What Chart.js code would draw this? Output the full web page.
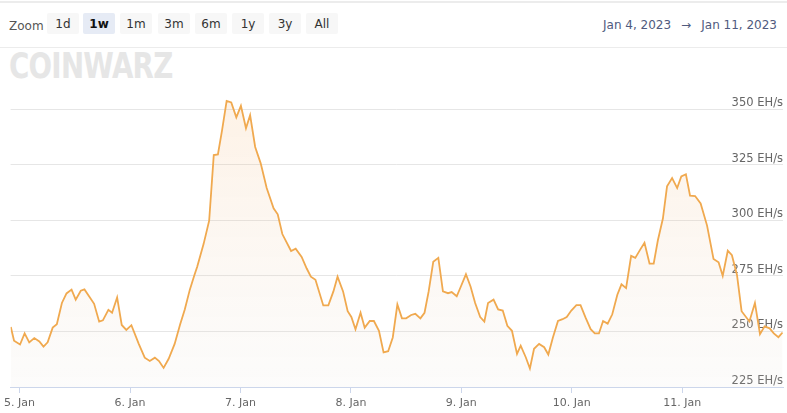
<!DOCTYPE html>
<html>
<head>
<meta charset="utf-8">
<script src="https://cdn.jsdelivr.net/npm/chart.js@4"></script>
<style>
html,body{margin:0;padding:0;background:#fff;width:787px;height:413px;overflow:hidden;font-family:"DejaVu Sans",sans-serif;}
#topline{position:absolute;left:0;top:1px;width:787px;height:2px;background:#ececec;}
#sep{position:absolute;left:0;top:47px;width:787px;height:1px;background:#ececec;}
.lbl{position:absolute;font-size:12px;color:#555;line-height:14px;white-space:nowrap;}
.btn{position:absolute;top:13px;width:32px;height:21px;line-height:23px;text-align:center;font-size:12px;color:#333;background:#f7f7f7;border-radius:2px;}
.btn.sel{background:#e6ebf5;font-weight:bold;color:#111;}
.date{position:absolute;top:18px;font-size:12px;line-height:14px;color:#505a7e;white-space:nowrap;}
#logo{position:absolute;left:9px;top:48px;font-size:36px;line-height:36px;font-weight:bold;color:#e6e6e6;transform:scaleX(0.77);transform-origin:left top;white-space:nowrap;letter-spacing:-1px;}
#wrap{position:absolute;left:0;top:80px;width:787px;height:333px;}
</style>
</head>
<body>
<div id="topline"></div>
<div id="sep"></div>
<div class="lbl" style="left:9px;top:19px;">Zoom</div>
<div class="btn" style="left:47px;">1d</div>
<div class="btn sel" style="left:83px;">1w</div>
<div class="btn" style="left:120px;">1m</div>
<div class="btn" style="left:158px;">3m</div>
<div class="btn" style="left:195px;">6m</div>
<div class="btn" style="left:232px;">1y</div>
<div class="btn" style="left:269px;">3y</div>
<div class="btn" style="left:306px;">All</div>
<div class="date" style="left:603px;">Jan 4, 2023</div>
<div class="date" style="left:681px;">→</div>
<div class="date" style="right:10px;">Jan 11, 2023</div>
<div id="logo">COINWARZ</div>
<div id="wrap"><canvas id="c"></canvas></div>
<script>
// Hours since 5 Jan 2023 00:00
const hours = [-1.9,-1.2,0.1,1.1,2.1,3.2,4.3,5.2,6.1,7.2,
8.1,9.2,10.2,11.3,12.2,13.3,14.1,15.1,16.2,17.3,
18.1,19.3,20.1,21.2,22.2,23.2,24.3,25.9,27.2,28.3,
29.4,30.3,31.3,32.4,33.7,34.9,35.9,37.0,38.0,38.6,
40.0,41.2,42.2,43.1,44.0,45.0,46.0,47.1,48.1,49.2,
50.1,51.2,52.4,53.7,55.2,56.1,57.1,59.0,60.0,61.3,
62.4,63.3,64.3,66.0,67.1,68.2,69.1,70.3,71.3,72.1,
73.0,74.1,75.0,76.1,77.0,78.1,79.1,80.1,81.1,82.1,
83.1,84.0,85.1,86.0,87.1,88.0,88.9,89.9,91.0,92.0,
93.1,93.9,95.0,95.9,97.0,98.0,99.0,100.1,101.0,101.8,
103.0,104.0,105.0,106.0,107.0,108.1,108.9,110.0,110.9,111.8,
112.9,114.0,114.9,115.9,117.0,118.0,118.9,119.9,121.0,121.9,
123.0,124.1,125.0,125.9,126.8,127.8,128.8,129.9,130.8,131.8,
132.9,133.8,134.9,135.8,136.9,137.8,138.7,139.8,140.7,141.8,
142.9,143.8,144.8,145.7,146.8,148.0,149.4,150.8,151.9,152.8,
153.9,154.8,155.9,156.9,158.6,159.8,160.9,161.9,163.0,163.9,
164.9,165.8];
// Network hashrate, EH/s
const hashrate = [252.0,245.8,244.1,249.1,245.1,247.0,245.5,243.2,245.1,251.7,
253.2,262.8,267.1,268.8,264.3,268.3,268.9,265.8,262.4,254.4,
255.0,259.7,258.4,265.3,252.9,250.7,252.8,244.4,238.2,236.7,
238.2,236.7,233.6,237.7,244.4,253.2,259.9,268.8,275.4,279.1,
289.4,299.8,329.3,329.6,340.4,353.7,353.0,346.3,351.5,341.4,
347.3,333.0,325.6,314.5,305.4,302.7,293.8,286.2,287.2,283.5,
278.3,274.6,273.2,261.7,261.7,268.0,274.6,268.0,259.1,256.5,
251.0,258.4,251.7,254.7,254.7,250.3,240.6,241.1,247.3,262.1,
255.9,255.9,257.4,257.9,255.9,258.4,268.0,281.3,283.1,268.0,
267.2,267.7,265.8,270.2,275.7,270.2,262.8,256.5,254.4,262.8,
264.3,259.9,259.4,252.5,250.3,239.9,243.6,238.4,233.3,242.2,
244.4,242.9,239.6,247.3,254.7,255.5,256.5,259.4,261.8,261.8,
256.2,251.0,249.1,249.1,254.7,253.5,257.7,266.5,271.2,269.5,
284.0,283.1,286.9,289.9,280.5,280.5,290.9,300.8,315.3,319.0,
314.5,319.7,320.7,311.1,310.9,307.6,297.6,282.6,281.1,275.0,
286.3,284.3,275.4,259.1,254.5,262.8,248.8,252.3,251.4,249.1,
247.4,249.5];
const tickHours = [0,24,48,72,96,120,144];
const tickLabels = ['5. Jan','6. Jan','7. Jan','8. Jan','9. Jan','10. Jan','11. Jan'];
const yTicks = [225,250,275,300,325,350];
const unit = ' EH/s';

const ctx = document.getElementById('c').getContext('2d');
new Chart(ctx, {
  type: 'line',
  data: {
    datasets: [{
      data: hours.map((h, i) => ({x: h, y: hashrate[i]})),
      borderColor: '#f0a94f',
      borderWidth: 1.8,
      pointRadius: 0,
      tension: 0,
      fill: 'start',
      backgroundColor: (c) => {
        const a = c.chart.chartArea;
        if (!a) return 'rgba(0,0,0,0)';
        const g = c.chart.ctx.createLinearGradient(0, a.top, 0, a.bottom);
        g.addColorStop(0, 'rgba(247,170,92,0.16)');
        g.addColorStop(1, 'rgba(225,220,215,0.10)');
        return g;
      }
    }]
  },
  options: {
    animation: false,
    responsive: true,
    maintainAspectRatio: false,
    layout: {padding: {left: 8, right: 4, top: 2, bottom: 0}},
    plugins: {legend: {display: false}, tooltip: {enabled: false}},
    scales: {
      x: {
        type: 'linear', min: -1.95, max: 165.9,
        afterBuildTicks: s => { s.ticks = tickHours.map(v => ({value: v})); },
        afterFit: s => { s.height = 26; },
        grid: {drawOnChartArea: false, drawTicks: true, tickLength: 6, color: '#ccd6eb'},
        border: {display: true, color: '#ccd6eb'},
        ticks: {
          autoSkip: false, maxRotation: 0, padding: 4, color: '#666',
          font: {family: 'DejaVu Sans', size: 11},
          callback: (v) => { const i = tickHours.indexOf(v); return i >= 0 ? tickLabels[i] : ''; }
        }
      },
      y: {
        type: 'linear', position: 'right', min: 225, max: 360,
        afterBuildTicks: s => { s.ticks = yTicks.map(v => ({value: v})); },
        afterFit: s => { s.width = 0; },
        grid: {drawTicks: false, color: '#e6e6e6'},
        border: {display: false},
        ticks: {
          mirror: true, padding: 0, labelOffset: -6, color: '#666',
          font: {family: 'DejaVu Sans', size: 11.5},
          callback: v => v + unit
        }
      }
    }
  }
});
</script>
</body>
</html>
